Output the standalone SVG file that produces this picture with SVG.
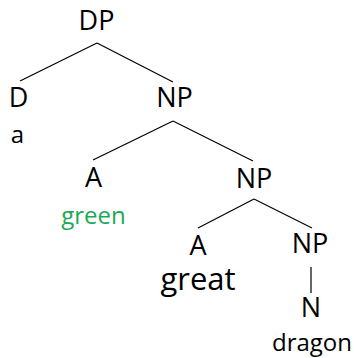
<svg xmlns="http://www.w3.org/2000/svg" width="354" height="358" viewBox="0 0 354 358">
  <style>
    text { font-family: "Open Sans", "Noto Sans", "DejaVu Sans", sans-serif; text-anchor: middle; fill: #000; }
    .cat { font-size: 27px; }
    .leaf { font-size: 24px; }
    .big { font-size: 31px; }
    .green { fill: #1aaa55; }
    .edge { stroke: #000; stroke-width: 1.2; fill: none; }
  </style>
  <rect width="354" height="358" fill="#fff"/>

  <!-- branches of the tree -->
  <g id="connectors">
    <line class="edge" x1="97" y1="43" x2="20" y2="81"/>
    <line class="edge" x1="97" y1="43" x2="173" y2="82"/>
    <line class="edge" x1="173" y1="121" x2="93" y2="160"/>
    <line class="edge" x1="173" y1="121" x2="253" y2="161"/>
    <line class="edge" x1="254" y1="199" x2="198" y2="228"/>
    <line class="edge" x1="254" y1="199" x2="312" y2="228"/>
    <line class="edge" x1="311" y1="267" x2="311" y2="293"/>
  </g>

  <g id="dp"><text class="cat" x="96.5" y="30">DP</text></g>
  <g id="d"><text class="cat" x="18.5" y="107">D</text></g>
  <g id="word-a"><text class="leaf" x="17.5" y="143">a</text></g>
  <g id="np1"><text class="cat" x="174.5" y="107">NP</text></g>
  <g id="a1"><text class="cat" x="93.5" y="187">A</text></g>
  <g id="word-green"><text class="leaf green" x="93.5" y="224">green</text></g>
  <g id="np2"><text class="cat" x="254" y="188">NP</text></g>
  <g id="a2"><text class="cat" x="198" y="255">A</text></g>
  <g id="word-great"><text class="big" x="198" y="290">great</text></g>
  <g id="np3"><text class="cat" x="310" y="253">NP</text></g>
  <g id="n"><text class="cat" x="311" y="317">N</text></g>
  <g id="word-dragon"><text class="leaf" x="312" y="351">dragon</text></g>
</svg>
